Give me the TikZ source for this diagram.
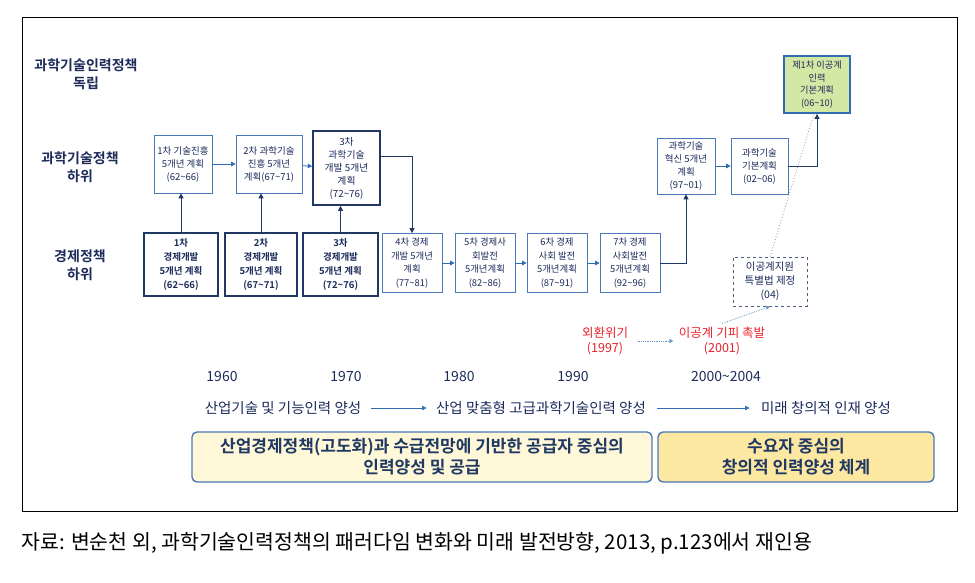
\documentclass[tikz,border=0pt]{standalone}
\usepackage{fontspec}
\setmainfont{Noto Sans CJK KR}[BoldFont={Noto Sans CJK KR Bold}]
\usepackage{tikz}
\usetikzlibrary{arrows.meta, positioning, calc}

\definecolor{navy}{HTML}{1F3864}
\definecolor{boxblue}{HTML}{4A78B8}
\definecolor{arrblue}{HTML}{2E6DB4}
\definecolor{textnavy}{HTML}{1C2B5A}
\definecolor{crisisred}{HTML}{E8202A}
\definecolor{greenfill}{HTML}{D4E8A6}
\definecolor{paleyellow}{HTML}{FFF8D8}
\definecolor{deepyellow}{HTML}{FDE8A2}
\newcommand{\pxfont}[2]{\fontsize{#1}{#2}\selectfont}
\newcommand{\wave}{\textasciitilde}

\begin{document}
\begin{tikzpicture}[x=1pt,y=-1pt,
    plano/.style={draw=boxblue,line width=0.7pt,fill=white,align=center,inner sep=0pt,
      text=textnavy,font=\pxfont{9.5}{13}},
    planoforte/.style={plano,draw=navy,line width=1.6pt,font=\bfseries\pxfont{9.5}{14}},
    rotulo/.style={align=center,text=textnavy,font=\bfseries\pxfont{14}{18}},
    crise/.style={align=center,text=crisisred,font=\pxfont{12.5}{15}},
    seta/.style={arrblue,line width=0.8pt,-{Triangle[length=4.5pt,width=4.5pt]}},
    setaforte/.style={navy,line width=0.9pt,-{Triangle[length=5pt,width=5pt]}},
    fase/.style={rounded corners=5pt,draw=boxblue,line width=1.4pt,align=center,
      minimum height=50,text=navy,font=\bfseries\pxfont{17}{21}}]
  \useasboundingbox (0,0) rectangle (975,583);
  \draw[line width=0.8pt] (22,17) rectangle (957,511);

  % 구분 (왼쪽)
  \node[rotulo] (lbl1) at (86,74) {과학기술인력정책\\독립};
  \node[rotulo] (lbl2) at (80,167) {과학기술정책\\하위};
  \node[rotulo] (lbl3) at (80,265) {경제정책\\하위};

  % 과학기술정책 하위
  \node[plano,minimum width=58,minimum height=58] (sci1) at (183,164)
    {1차 기술진흥\\5개년 계획\\(62\wave66)};
  \node[plano,minimum width=66,minimum height=58] (sci2) at (269,164)
    {2차 과학기술\\진흥 5개년\\계획(67\wave71)};
  \node[planoforte,font=\pxfont{9.8}{13},minimum width=67,minimum height=74] (sci3) at (346.5,168)
    {3차\\과학기술\\개발 5개년\\계획\\(72\wave76)};
  \node[plano,minimum width=58,minimum height=56] (sci4) at (686,166)
    {과학기술\\혁신 5개년\\계획\\(97\wave01)};
  \node[plano,minimum width=57,minimum height=56] (sci5) at (759.5,166)
    {과학기술\\기본계획\\(02\wave06)};
  \node[plano,draw=arrblue,line width=1.8pt,fill=greenfill,font=\pxfont{9.2}{12.5},
    minimum width=66,minimum height=57] (green) at (817,84.5)
    {제1차 이공계\\인력\\기본계획\\(06\wave10)};

  % 경제정책 하위
  \node[planoforte,minimum width=74,minimum height=63] (econ1) at (181,264.5)
    {1차\\경제개발\\5개년 계획\\(62\wave66)};
  \node[planoforte,minimum width=72,minimum height=63] (econ2) at (261,264.5)
    {2차\\경제개발\\5개년 계획\\(67\wave71)};
  \node[planoforte,minimum width=75,minimum height=63] (econ3) at (340.5,264.5)
    {3차\\경제개발\\5개년 계획\\(72\wave76)};
  \foreach \n/\x/\txt in {4/412/{4차 경제\\개발 5개년\\계획\\(77\wave81)},
                          5/485/{5차 경제사\\회발전\\5개년계획\\(82\wave86)},
                          6/557/{6차 경제\\사회 발전\\5개년계획\\(87\wave91)},
                          7/630/{7차 경제\\사회발전\\5개년계획\\(92\wave96)}}
    \node[plano,font=\pxfont{9.4}{13.5},minimum width=60,minimum height=59] (econ\n) at (\x,263) {\txt};

  \node[plano,dashed,draw=navy!80,line width=0.8pt,font=\pxfont{10.5}{14},
    minimum width=74,minimum height=49] (dashed) at (770,281.5)
    {이공계지원\\특별법 제정\\(04)};

  % 연결
  \draw[seta] (sci1) -- (sci2);
  \draw[seta] (sci2) -- (sci3);
  \foreach \i in {1,2,3}
    \draw[setaforte] (econ\i.north) -- (econ\i.north |- sci\i.south);
  \draw[setaforte] ($(sci3.north east)!0.35!(sci3.south east)$) -| (econ4.north);
  \foreach \i/\j in {4/5,5/6,6/7}
    \draw[seta] (econ\i) -- (econ\j);
  \draw[setaforte] (econ7.east) -| (sci4.south);
  \draw[seta] (sci4) -- (sci5);
  \draw[setaforte] (sci5.east) -| (green.south);
  \draw[gray!70,dotted,line width=0.9pt] (dashed.north) -- ([xshift=-3]green.south);

  % 계기
  \node[crise] (crisis1) at (605,341) {외환위기\\(1997)};
  \node[crise] (crisis2) at (722,341) {이공계 기피 촉발\\(2001)};
  \draw[arrblue!70,densely dotted,line width=0.8pt,-{Triangle[length=4pt,width=4pt]},
    shorten <=6pt,shorten >=2pt] (crisis1.east) -- (crisis2.west);
  \draw[arrblue!70,densely dotted,line width=0.8pt,-{Triangle[length=4pt,width=4pt]}]
    (crisis2.north) -- (dashed.south);

  % 연대
  \foreach \yr/\x in {1960/222,1970/346,1980/459,1990/573,2000\wave2004/726}
    \node[text=textnavy,font=\pxfont{14}{16}] (yr\x) at (\x,377) {\yr};
  \node[text=textnavy,font=\pxfont{14.5}{16}] (row1) at (283,408) {산업기술 및 기능인력 양성};
  \node[text=textnavy,font=\pxfont{14.5}{16}] (row2) at (541,408) {산업 맞춤형 고급과학기술인력 양성};
  \node[text=textnavy,font=\pxfont{14.5}{16}] (row3) at (826,408) {미래 창의적 인재 양성};
  \draw[seta,line width=0.6pt,shorten <=6pt,shorten >=6pt] (row1) -- (row2);
  \draw[seta,line width=0.6pt,shorten <=8pt,shorten >=8pt] (row2) -- (row3);

  \node[fase,fill=paleyellow,minimum width=460] (phase1) at (422,457)
    {산업경제정책(고도화)과 수급전망에 기반한 공급자 중심의\\인력양성 및 공급};
  \node[fase,fill=deepyellow,minimum width=276] (phase2) at (796,457)
    {수요자 중심의\\창의적 인력양성 체계};

  \node[anchor=west,font=\pxfont{20.5}{24}] (source) at (18,543)
    {자료: 변순천 외, 과학기술인력정책의 패러다임 변화와 미래 발전방향, 2013, p.123에서 재인용};
\end{tikzpicture}
\end{document}
